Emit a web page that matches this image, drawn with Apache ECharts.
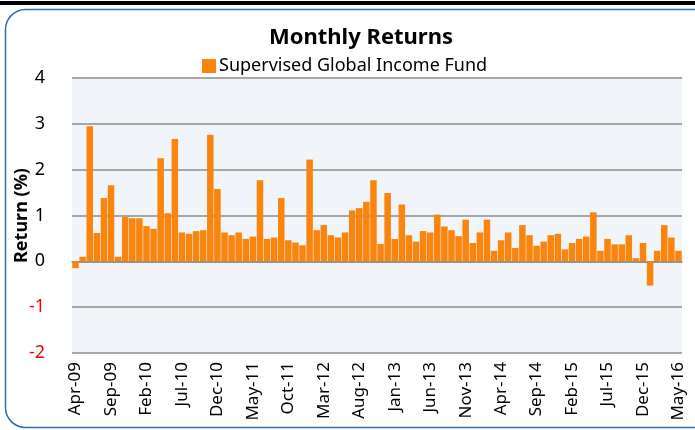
<!DOCTYPE html>
<html lang="en">
<head>
<meta charset="UTF-8">
<title>Monthly Returns</title>
<script src="https://cdn.jsdelivr.net/npm/echarts@6/dist/echarts.min.js"></script>
<style>
  html, body { margin: 0; padding: 0; background: #fff; }
</style>
</head>
<body>
<div id="main" style="width:695px;height:430px;"></div>
<script type="text/javascript">
// months Apr-09 .. May-16
var monNames = ['Jan','Feb','Mar','Apr','May','Jun','Jul','Aug','Sep','Oct','Nov','Dec'];
var months = [];
for (var y = 2009; y <= 2016; y++) {
    for (var m = 0; m < 12; m++) {
        if (y === 2009 && m < 3) continue;
        if (y === 2016 && m > 4) continue;
        months.push(monNames[m] + '-' + String(y).slice(2));
    }
}

// monthly returns (%)
var returns2009 = [-0.15, 0.10, 2.95, 0.62, 1.38, 1.66, 0.10, 0.97, 0.94];
var returns2010 = [0.94, 0.77, 0.71, 2.25, 1.05, 2.67, 0.63, 0.60, 0.66, 0.68, 2.76, 1.58];
var returns2011 = [0.63, 0.57, 0.63, 0.49, 0.54, 1.77, 0.49, 0.52, 1.38, 0.46, 0.41, 0.35];
var returns2012 = [2.22, 0.68, 0.79, 0.57, 0.52, 0.63, 1.11, 1.16, 1.30, 1.77, 0.38, 1.49];
var returns2013 = [0.49, 1.24, 0.57, 0.43, 0.66, 0.63, 1.02, 0.76, 0.68, 0.55, 0.91, 0.40];
var returns2014 = [0.63, 0.91, 0.23, 0.46, 0.63, 0.29, 0.79, 0.57, 0.34, 0.43, 0.57, 0.60];
var returns2015 = [0.26, 0.40, 0.49, 0.54, 1.07, 0.23, 0.49, 0.37, 0.37, 0.57, 0.07, 0.40];
var returns2016 = [-0.53, 0.23, 0.79, 0.52, 0.23];
var returns = [].concat(returns2009, returns2010, returns2011, returns2012,
                        returns2013, returns2014, returns2015, returns2016);

var yTicks = [-2, -1, 0, 1, 2, 3, 4];

var font = 'Noto Sans';
var myChart = echarts.init(document.getElementById('main'));

var option = {
    backgroundColor: '#fff',
    animation: false,
    title: {
        text: 'Monthly Returns',
        left: 356,
        textAlign: 'center',
        top: 22,
        textStyle: { fontFamily: font, fontSize: 22, fontWeight: 'bold', color: '#000' }
    },
    legend: {
        left: 197,
        top: 52,
        itemWidth: 14,
        itemHeight: 14,
        itemGap: 4,
        icon: 'rect',
        textStyle: { fontFamily: font, fontSize: 18, color: '#000', padding: [0, 0, 0, -2] },
        data: ['Supervised Global Income Fund']
    },
    graphic: [
        { type: 'rect', shape: { x: 0, y: 1, width: 695, height: 4 }, style: { fill: '#000' } },
        { type: 'rect', shape: { x: 5.5, y: 9.5, width: 710, height: 418, r: 20 },
          style: { fill: 'none', stroke: '#2e6db4', lineWidth: 1.5 } }
    ],
    grid: {
        left: 72, right: 13, top: 78, bottom: 77,
        outerBoundsMode: 'none',
        containLabel: false,
        show: true, backgroundColor: '#f1f5fa', borderWidth: 0
    },
    xAxis: [
        {
            type: 'category',
            data: months,
            axisLine: { onZero: true, lineStyle: { color: '#8c8c8c', width: 1.5 } },
            axisTick: { interval: 4, length: 5, lineStyle: { color: '#8c8c8c' } },
            axisLabel: { show: false },
            splitLine: { show: false }
        },
        {
            type: 'category',
            data: months,
            position: 'bottom',
            axisLine: { show: false, onZero: false },
            axisTick: { show: false },
            axisLabel: {
                interval: 4, rotate: 90, margin: 9,
                fontFamily: font, fontSize: 17, color: '#000'
            },
            splitLine: { show: false }
        }
    ],
    yAxis: {
        type: 'value',
        min: yTicks[0],
        max: yTicks[yTicks.length - 1],
        interval: 1,
        name: 'Return (%)',
        nameLocation: 'middle',
        nameGap: 41,
        nameMoveOverlap: false,
        nameTextStyle: { fontFamily: font, fontSize: 18, fontWeight: 'bold', color: '#000' },
        axisLine: { show: false },
        axisTick: { show: false },
        axisLabel: {
            margin: 27,
            fontFamily: font,
            fontSize: 18,
            color: function (v) { return v < 0 ? '#ff0000' : '#000'; }
        },
        splitLine: { lineStyle: { color: '#8c8c8c', width: 1.5 } }
    },
    series: [{
        name: 'Supervised Global Income Fund',
        type: 'bar',
        data: returns,
        xAxisIndex: 0,
        barCategoryGap: '8%',
        itemStyle: { color: '#fa850e' }
    }]
};

myChart.setOption(option);
</script>
</body>
</html>
